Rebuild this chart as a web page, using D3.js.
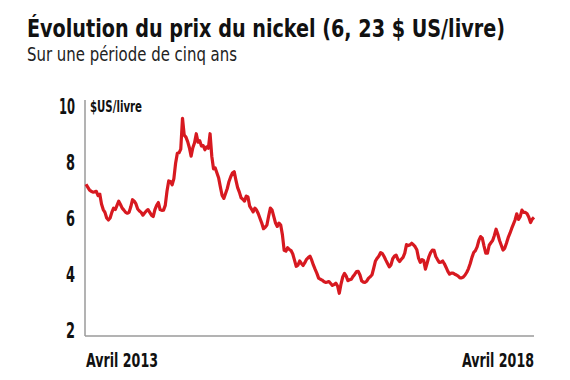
<!DOCTYPE html>
<html>
<head>
<meta charset="utf-8">
<script src="https://cdn.jsdelivr.net/npm/d3@7"></script>
<style>
  body { margin: 0; background: #fff; }
  text { font-family: "Liberation Sans Narrow", "DejaVu Sans Condensed", "Roboto", sans-serif; fill: #111; }
</style>
</head>
<body>
<div id="chart"></div>
<script>
// prix hebdomadaire du nickel, $US/livre, à partir de la semaine du 1er avril 2013
const startDate = new Date(2013, 3, 1)
const prices = [
  7.2, 7.1, 7.0, 6.95, 6.92, 6.93, 6.95, 6.8, 6.85, 6.5,
  6.3, 6.2, 6.0, 5.93, 6.0, 6.2, 6.35, 6.3, 6.45, 6.6,
  6.48, 6.35, 6.28, 6.2, 6.17, 6.2, 6.4, 6.65, 6.6, 6.5,
  6.32, 6.25, 6.2, 6.1, 6.18, 6.25, 6.3, 6.2, 6.1, 6.05,
  6.3, 6.45, 6.55, 6.3, 6.27, 6.28, 6.45, 6.95, 7.32, 7.3,
  7.18, 7.4, 7.95, 8.3, 8.32, 8.45, 9.55, 8.95, 8.88, 8.72,
  8.5, 8.2, 8.5, 8.68, 9.0, 8.7, 8.75, 8.56, 8.58, 8.43,
  8.53, 8.48, 9.0, 8.2, 7.75, 7.78, 7.6, 7.42, 7.1, 6.8,
  6.7, 6.87, 7.05, 7.3, 7.47, 7.6, 7.65, 7.35, 7.08, 6.92,
  6.72, 6.67, 6.6, 6.78, 6.75, 6.42, 6.32, 6.22, 6.35, 6.28,
  6.15, 5.98, 5.82, 5.62, 5.67, 5.75, 6.07, 6.35, 6.28, 6.05,
  5.82, 5.7, 5.82, 5.75, 5.4, 4.85, 4.82, 4.94, 4.88, 4.84,
  4.72, 4.5, 4.28, 4.32, 4.47, 4.38, 4.31, 4.41, 4.53, 4.59,
  4.64, 4.5, 4.32, 4.17, 4.03, 3.86, 3.82, 3.79, 3.74, 3.71,
  3.72, 3.74, 3.67, 3.6, 3.63, 3.68, 3.58, 3.32, 3.65, 3.9,
  4.03, 3.93, 3.77, 3.8, 3.82, 3.92, 4.0, 4.09, 4.1, 3.97,
  3.76, 3.72, 3.71, 3.76, 3.86, 3.91, 3.98, 4.22, 4.47, 4.57,
  4.65, 4.77, 4.73, 4.63, 4.5, 4.38, 4.26, 4.33, 4.55, 4.64,
  4.68, 4.53, 4.45, 4.53, 4.6, 4.75, 5.05, 5.02, 5.04, 5.1,
  5.05, 4.98, 4.87, 4.57, 4.42, 4.52, 4.48, 4.18, 4.4, 4.62,
  4.77, 4.86, 4.85, 4.63, 4.52, 4.42, 4.43, 4.47, 4.37, 4.24,
  4.1, 4.0, 4.04, 4.04, 4.0, 3.97, 3.93, 3.87, 3.87, 3.9,
  3.97, 4.07, 4.2, 4.38, 4.6, 4.77, 4.84, 4.97, 5.2, 5.34,
  5.28, 5.0, 4.75, 4.75, 5.03, 5.12, 5.2, 5.38, 5.6, 5.42,
  5.2, 5.03, 4.86, 4.92, 5.1, 5.3, 5.45, 5.62, 5.77, 5.93,
  6.15, 5.95, 6.05, 6.28, 6.2, 6.2, 6.15, 6.03, 5.84, 5.96,
  6.02
]
const yTicks = [2, 4, 6, 8, 10]
const xLabels = ["Avril 2013", "Avril 2018"]
const title = "Évolution du prix du nickel (6, 23 $ US/livre)"
const subtitle = "Sur une période de cinq ans"
const unit = "$US/livre"

const data = prices.map((p, i) => ({ date: d3.timeWeek.offset(startDate, i), price: p }))

const svg = d3.select("#chart")
  .append("svg")
    .attr("width", 570)
    .attr("height", 380)

const xScale = d3.scaleTime()
  .domain(d3.extent(data, d => d.date))
  .range([86, 534])

const yScale = d3.scaleLinear()
  .domain([1.8, 10.2])
  .range([336, 100])

svg.append("text")
  .text(title)
  .attr("x", 27)
  .attr("y", 37)
  .attr("textLength", 478)
  .attr("lengthAdjust", "spacingAndGlyphs")
  .style("font-size", "24px")
  .style("font-weight", "bold")

svg.append("text")
  .text(subtitle)
  .attr("x", 27)
  .attr("y", 61)
  .attr("textLength", 210)
  .attr("lengthAdjust", "spacingAndGlyphs")
  .style("font-size", "19px")
  .style("fill", "#222")

// axes
svg.append("line")
  .attr("x1", 85).attr("y1", yScale(10.2))
  .attr("x2", 85).attr("y2", yScale(1.8))
  .attr("stroke", "#9a9a9a")
  .attr("stroke-width", 1.5)

svg.append("line")
  .attr("x1", 85).attr("y1", yScale(1.8))
  .attr("x2", 534).attr("y2", yScale(1.8))
  .attr("stroke", "#9a9a9a")
  .attr("stroke-width", 1.5)

svg.selectAll(".ytick")
  .data(yTicks)
  .join("text")
    .attr("class", "ytick")
    .text(d => d)
    .attr("x", 75)
    .attr("y", d => yScale(d) + 8)
    .attr("text-anchor", "end")
    .attr("textLength", d => d >= 10 ? 16 : 9)
    .attr("lengthAdjust", "spacingAndGlyphs")
    .style("font-size", "22px")
    .style("font-weight", "bold")

svg.append("text")
  .text(unit)
  .attr("x", 90)
  .attr("y", yScale(10) + 6)
  .attr("textLength", 52)
  .attr("lengthAdjust", "spacingAndGlyphs")
  .style("font-size", "16px")
  .style("font-weight", "bold")

svg.selectAll(".xlabel")
  .data(xLabels)
  .join("text")
    .attr("class", "xlabel")
    .text(d => d)
    .attr("x", (d, i) => i === 0 ? xScale.range()[0] : xScale.range()[1])
    .attr("y", 367)
    .attr("text-anchor", (d, i) => i === 0 ? "start" : "end")
    .attr("textLength", 72)
    .attr("lengthAdjust", "spacingAndGlyphs")
    .style("font-size", "20px")
    .style("font-weight", "bold")

const line = d3.line()
  .x(d => xScale(d.date))
  .y(d => yScale(d.price))

svg.append("path")
  .datum(data)
  .attr("d", line)
  .attr("fill", "none")
  .attr("stroke", "#d71920")
  .attr("stroke-width", 3.2)
  .attr("stroke-linejoin", "round")
</script>
</body>
</html>
